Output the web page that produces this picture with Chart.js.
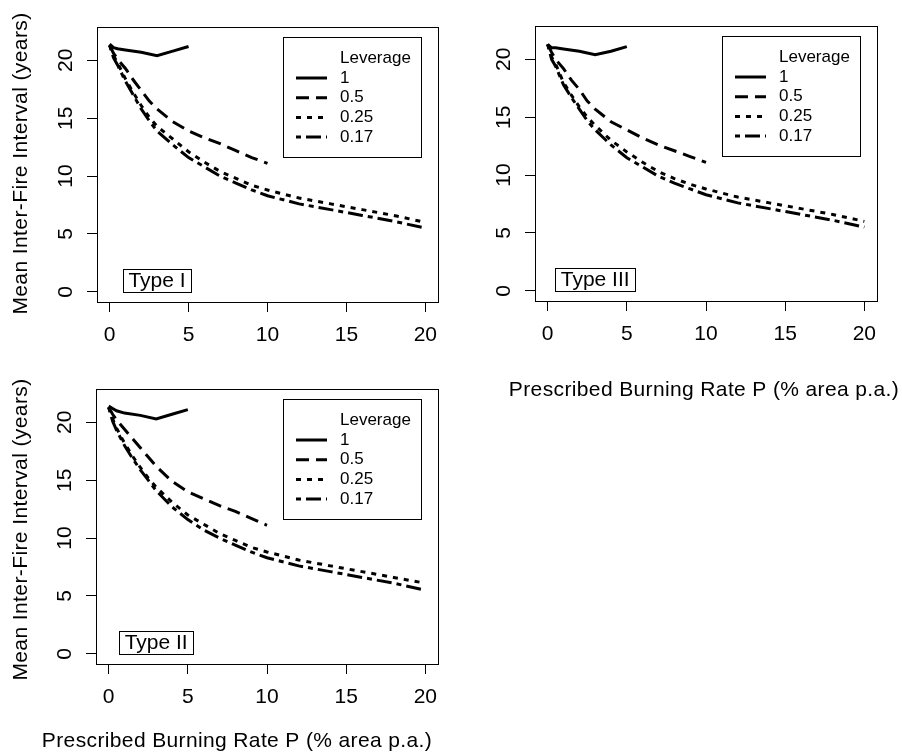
<!DOCTYPE html>
<html lang="en">
<head>
<meta charset="UTF-8" />
<title>Mean Inter-Fire Interval vs Prescribed Burning Rate</title>
<script src="https://cdn.jsdelivr.net/npm/chart.js"></script>
<style>
  html, body { margin: 0; padding: 0; background: #fff; }
  #wrap { position: relative; width: 902px; height: 754px; overflow: hidden; background: #fff; }
  canvas { position: absolute; }
</style>
</head>
<body>
<div id="wrap">
  <canvas id="typeI" width="451" height="362" style="left:0;top:0"></canvas>
  <canvas id="typeIII" width="451" height="404" style="left:451px;top:0"></canvas>
  <canvas id="typeII" width="451" height="392" style="left:0;top:362px"></canvas>
</div>

<script>
  // x values (prescribed burning rate, % area p.a.)
  const xLev1 = [0, 0.25, 0.5, 1, 2, 3, 4, 5];
  const xLev05 = [0, 0.25, 0.5, 1, 1.5, 2, 2.5, 3, 4, 5, 6, 7, 8, 9, 10];
  const xLow = [0, 0.25, 0.5, 1, 1.5, 2, 2.5, 3, 4, 5, 6, 7, 8, 9, 10, 12, 14, 16, 18, 20]; // 0.25 and 0.17

  const leverages = ['1', '0.5', '0.25', '0.17'];
  const tickValues = [0, 5, 10, 15, 20];

  // Type I
  const typeI_1 = [21.4, 21.1, 21.0, 20.9, 20.7, 20.4, 20.8, 21.2];
  const typeI_05 = [21.3, 20.6, 20.1, 19.3, 18.3, 17.4, 16.5, 15.8, 14.7, 13.9, 13.3, 12.8, 12.2, 11.6, 11.1];
  const typeI_025 = [21.3, 20.4, 19.8, 18.4, 17.2, 16.1, 15.1, 14.3, 13.2, 12.1, 11.2, 10.4, 9.8, 9.2, 8.8, 8.1, 7.6, 7.1, 6.6, 6.0];
  const typeI_017 = [21.3, 20.2, 19.6, 18.2, 17.0, 15.8, 14.8, 13.9, 12.7, 11.6, 10.8, 10.0, 9.4, 8.8, 8.3, 7.6, 7.1, 6.6, 6.1, 5.5];

  // Type III
  const typeIII_1 = [21.3, 21.0, 21.0, 20.9, 20.7, 20.4, 20.7, 21.1];
  const typeIII_05 = [21.3, 20.6, 20.0, 19.2, 18.2, 17.4, 16.4, 15.7, 14.6, 13.9, 13.2, 12.6, 12.1, 11.6, 11.1];
  const typeIII_025 = [21.3, 20.2, 19.6, 18.0, 16.9, 15.9, 15.0, 14.3, 13.0, 12.0, 11.1, 10.3, 9.7, 9.2, 8.8, 8.1, 7.6, 7.1, 6.6, 6.0];
  const typeIII_017 = [21.3, 20.0, 19.4, 17.8, 16.7, 15.7, 14.7, 13.9, 12.6, 11.5, 10.7, 9.9, 9.3, 8.8, 8.3, 7.6, 7.1, 6.6, 6.1, 5.5];

  // Type II
  const typeII_1 = [21.4, 21.2, 21.0, 20.8, 20.6, 20.3, 20.7, 21.1];
  const typeII_05 = [21.3, 20.7, 20.2, 19.4, 18.6, 17.8, 17.0, 16.2, 14.9, 14.0, 13.4, 12.8, 12.3, 11.7, 11.1];
  const typeII_025 = [21.3, 20.3, 19.5, 18.2, 17.1, 16.1, 15.2, 14.4, 13.1, 12.0, 11.2, 10.4, 9.8, 9.2, 8.8, 8.1, 7.6, 7.1, 6.6, 6.1];
  const typeII_017 = [21.3, 20.1, 19.3, 18.0, 16.9, 15.9, 15.0, 14.1, 12.7, 11.6, 10.7, 10.0, 9.4, 8.8, 8.3, 7.6, 7.1, 6.6, 6.1, 5.5];

  const xTitle = 'Prescribed Burning Rate P (% area p.a.)';
  const yTitle = 'Mean Inter-Fire Interval (years)';
  const legendTitle = 'Leverage';
  const tagX = 3; // panel tag centred at P = 3

  const FONT = '"Liberation Sans", Arial, Helvetica, sans-serif';
  Chart.defaults.color = '#000';
  Chart.defaults.font.family = FONT;

  const xsFor = [xLev1, xLev05, xLow, xLow];
  const dashes = [[], [13, 7], [5, 6], [5, 5, 15, 5]];

  // box around the plot region
  const frame = {
    id: 'frame',
    afterDraw(chart) {
      const { ctx, chartArea: a } = chart;
      ctx.save();
      ctx.strokeStyle = '#000';
      ctx.lineWidth = 1;
      ctx.strokeRect(Math.round(a.left) + 0.5, Math.round(a.top) + 0.5, Math.round(a.right - a.left), Math.round(a.bottom - a.top));
      ctx.restore();
    }
  };

  // legend box in top right corner
  const legendBox = {
    id: 'legendBox',
    afterDatasetsDraw(chart) {
      const { ctx, chartArea: a } = chart;
      const w = 138, h = 120;
      const left = Math.round(a.right - 17 - w), top = Math.round(a.top + 10);
      ctx.save();
      ctx.fillStyle = '#fff';
      ctx.fillRect(left, top, w, h);
      ctx.strokeStyle = '#000';
      ctx.lineWidth = 1;
      ctx.strokeRect(left + 0.5, top + 0.5, w, h);
      ctx.font = '17px ' + FONT;
      ctx.fillStyle = '#000';
      ctx.textBaseline = 'middle';
      ctx.textAlign = 'left';
      ctx.fillText(legendTitle, left + 57, top + 21);
      chart.data.datasets.forEach((ds, i) => {
        const y = top + 41 + i * 19.7;
        ctx.setLineDash(ds.borderDash);
        ctx.lineWidth = 3;
        ctx.beginPath();
        ctx.moveTo(left + 13, y);
        ctx.lineTo(left + 44, y);
        ctx.stroke();
        ctx.setLineDash([]);
        ctx.fillText(ds.label, left + 57, y);
      });
      ctx.restore();
    }
  };

  // "Type X" tag sitting on y = 0
  const typeTag = {
    id: 'typeTag',
    afterDatasetsDraw(chart, args, opts) {
      const { ctx, scales } = chart;
      ctx.save();
      ctx.font = '21px ' + FONT;
      const tw = ctx.measureText(opts.text).width + 11;
      const cx = scales.x.getPixelForValue(tagX);
      const bottom = Math.round(scales.y.getPixelForValue(0));
      const left = Math.round(cx - tw / 2);
      ctx.fillStyle = '#fff';
      ctx.fillRect(left, bottom - 23, tw, 23);
      ctx.strokeStyle = '#000';
      ctx.lineWidth = 1;
      ctx.strokeRect(left + 0.5, bottom - 22.5, Math.round(tw), 23);
      ctx.fillStyle = '#000';
      ctx.textAlign = 'center';
      ctx.textBaseline = 'middle';
      ctx.fillText(opts.text, cx, bottom - 10.5);
      ctx.restore();
    }
  };

  // axis titles, placed like R's mtext (slightly spaced lettering)
  const axisTitles = {
    id: 'axisTitles',
    afterDraw(chart, args, opts) {
      const { ctx, chartArea: a } = chart;
      ctx.save();
      ctx.font = '21px ' + FONT;
      ctx.fillStyle = '#000';
      ctx.textAlign = 'center';
      ctx.textBaseline = 'middle';
      if (opts.x) {
        ctx.letterSpacing = '0.37px';
        ctx.fillText(xTitle, opts.x.cx, opts.x.cy);
      }
      if (opts.y) {
        ctx.letterSpacing = '0.4px';
        ctx.translate(opts.y.cx, (a.top + a.bottom) / 2 + opts.y.dy);
        ctx.rotate(-Math.PI / 2);
        ctx.fillText(yTitle, 0, 0);
      }
      ctx.restore();
    }
  };

  function makePanel(id, g, ys, tag) {
    const datasets = ys.map((vals, i) => ({
      label: leverages[i],
      data: vals.map((v, j) => ({ x: xsFor[i][j], y: v })),
      borderColor: '#000',
      borderWidth: 3,
      borderDash: dashes[i],
      pointRadius: 0,
      tension: 0,
      fill: false
    }));
    const tickGrid = { display: true, drawOnChartArea: false, drawTicks: true, tickLength: 10, color: '#000', lineWidth: 1 };
    new Chart(document.getElementById(id), {
      type: 'line',
      data: { datasets },
      options: {
        responsive: false,
        animation: false,
        devicePixelRatio: 1,
        layout: { padding: { left: 0, top: g.top, right: g.right, bottom: 0 } },
        plugins: {
          legend: { display: false },
          tooltip: { enabled: false },
          typeTag: { text: tag },
          axisTitles: { x: g.xLab, y: g.yLab }
        },
        scales: {
          x: {
            type: 'linear',
            min: -0.8,
            max: 20.8,
            afterBuildTicks: s => { s.ticks = tickValues.map(v => ({ value: v })); },
            afterFit: s => { s.height = g.xh; s.paddingLeft = 0; s.paddingRight = 0; },
            grid: tickGrid,
            border: { display: false },
            ticks: { font: { size: 21 }, padding: 11, autoSkip: false, maxRotation: 0, callback: v => String(v) }
          },
          y: {
            type: 'linear',
            min: -0.88,
            max: 22.88,
            afterBuildTicks: s => { s.ticks = tickValues.map(v => ({ value: v })); },
            afterFit: s => { s.width = g.yw; s.paddingTop = 0; s.paddingBottom = 0; },
            grid: tickGrid,
            border: { display: false },
            ticks: { font: { size: 21 }, padding: 9.5, minRotation: 90, maxRotation: 90, crossAlign: 'center', callback: v => String(v) }
          }
        }
      },
      plugins: [frame, legendBox, typeTag, axisTitles]
    });
  }

  makePanel('typeI', { top: 27, right: 13, yw: 97, xh: 60, yLab: { cx: 21, dy: -1 } },
    [typeI_1, typeI_05, typeI_025, typeI_017], 'Type I');
  makePanel('typeIII', { top: 26, right: 25, yw: 84, xh: 103, xLab: { cx: 253, cy: 390 } },
    [typeIII_1, typeIII_05, typeIII_025, typeIII_017], 'Type III');
  makePanel('typeII', { top: 27, right: 13, yw: 96, xh: 90, yLab: { cx: 21, dy: 3 },
    xLab: { cx: 237, cy: 379 } },
    [typeII_1, typeII_05, typeII_025, typeII_017], 'Type II');
</script>
</body>
</html>
